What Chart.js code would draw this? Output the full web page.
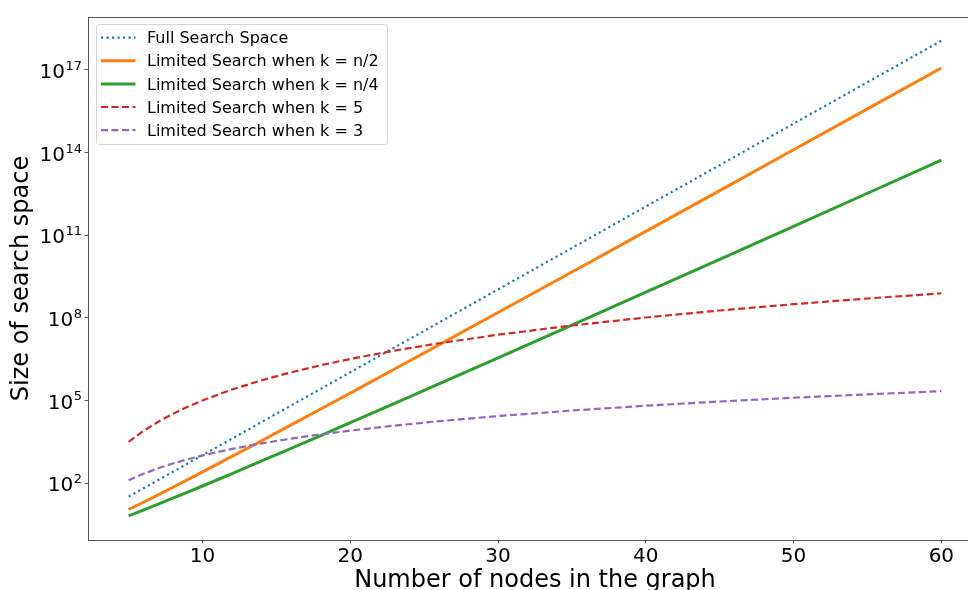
<!DOCTYPE html>
<html>
<head>
<meta charset="utf-8">
<script src="https://cdn.jsdelivr.net/npm/chart.js@4/dist/chart.umd.min.js"></script>
<style>
  html, body { margin: 0; padding: 0; background: #fff; overflow: hidden; }
  #wrap { position: relative; width: 982px; height: 590px; }
</style>
</head>
<body>
<div id="wrap"><canvas id="chart"></canvas></div>
<script>
// Number of nodes n in the graph
const nodes = [5, 6, 7, 8, 9, 10, 12, 14, 16, 18, 20, 23, 26, 30, 35, 40, 45, 50, 55, 60];

// Size of the search space for each strategy
const fullSpace = [32, 64, 128, 256, 512, 1024, 4096, 16384, 65536, 262144, 1048576,
  8388608, 67108864, 1073741824, 3.436e10, 1.0995e12, 3.518e13, 1.126e15, 3.603e16, 1.153e18];
const halfK = [10.9, 20, 37.3, 70, 132, 252, 924, 3432, 12870, 48620, 184756,
  1.38e6, 1.04e7, 1.551e8, 4.60e9, 1.378e11, 4.16e12, 1.264e14, 3.86e15, 1.183e17];
const quarterK = [6.4, 10.4, 17, 28, 46.6, 77.8, 220, 630, 1820, 5300, 15504,
  7.8e4, 3.95e5, 3.5e6, 5.45e7, 8.48e8, 1.33e10, 2.11e11, 3.34e12, 5.32e13];
const kFive = [3125, 7776, 16807, 32768, 59049, 1e5, 248832, 537824, 1048576, 1889568, 3.2e6,
  6436343, 11881376, 2.43e7, 52521875, 1.024e8, 184528125, 3.125e8, 503284375, 7.776e8];
const kThree = [125, 216, 343, 512, 729, 1000, 1728, 2744, 4096, 5832, 8000,
  12167, 17576, 27000, 42875, 64000, 91125, 125000, 166375, 216000];

const seriesLabels = [
  'Full Search Space',
  'Limited Search when k = n/2',
  'Limited Search when k = n/4',
  'Limited Search when k = 5',
  'Limited Search when k = 3'
];

// Axis ticks
const xTicks = [10, 20, 30, 40, 50, 60];
const yTickExponents = [2, 5, 8, 11, 14, 17];

const xTitle = 'Number of nodes in the graph';
const yTitle = 'Size of search space';

const FONT = "'DejaVu Sans', sans-serif";

const styles = [
  { color: '#1f77b4', width: 2.2, dash: [2.2, 3.3] },
  { color: '#ff7f0e', width: 3, dash: [] },
  { color: '#2ca02c', width: 3, dash: [] },
  { color: '#d62728', width: 2.2, dash: [7, 3.5] },
  { color: '#9467bd', width: 2.2, dash: [7, 3.5] }
];

const values = [fullSpace, halfK, quarterK, kFive, kThree];

const datasets = values.map((arr, i) => ({
  label: seriesLabels[i],
  data: nodes.map((n, j) => ({ x: n, y: arr[j] })),
  borderColor: styles[i].color,
  backgroundColor: styles[i].color,
  borderWidth: styles[i].width,
  borderDash: styles[i].dash,
  borderCapStyle: 'butt',
  pointRadius: 0,
  tension: 0,
  fill: false,
  order: values.length - i
}));

const decor = {
  id: 'decor',
  afterDatasetsDraw(chart) {
    const { ctx, chartArea: a } = chart;
    ctx.save();
    ctx.strokeStyle = '#555';
    ctx.lineWidth = 1;
    ctx.setLineDash([]);
    ctx.strokeRect(Math.round(a.left) + 0.5, Math.round(a.top) + 0.5,
      Math.round(a.right - a.left), Math.round(a.bottom - a.top));
    ctx.restore();
  },
  afterDraw(chart) {
    const { ctx, chartArea: a } = chart;
    const yScale = chart.scales.y;
    ctx.save();
    ctx.fillStyle = '#000';

    // y tick labels as 10 with a raised exponent
    yTickExponents.forEach(e => {
      const py = yScale.getPixelForValue(Math.pow(10, e));
      const right = a.left - 6;
      ctx.font = '13px ' + FONT;
      const expStr = String(e);
      const ew = ctx.measureText(expStr).width;
      ctx.textAlign = 'right';
      ctx.textBaseline = 'alphabetic';
      ctx.fillText(expStr, right, py);
      ctx.font = '20px ' + FONT;
      ctx.fillText('10', right - ew - 0.5, py + 8.3);
    });

    // axis titles
    ctx.font = '24px ' + FONT;
    ctx.textAlign = 'center';
    ctx.textBaseline = 'alphabetic';
    ctx.fillText(xTitle, (a.left + a.right) / 2, 586.5);
    ctx.save();
    ctx.translate(28, (a.top + a.bottom) / 2);
    ctx.rotate(-Math.PI / 2);
    ctx.fillText(yTitle, 0, 0);
    ctx.restore();

    // legend
    const bx = 96.5, by = 24.5, bw = 291, bh = 120, r = 3;
    ctx.beginPath();
    ctx.moveTo(bx + r, by);
    ctx.lineTo(bx + bw - r, by);
    ctx.arcTo(bx + bw, by, bx + bw, by + r, r);
    ctx.lineTo(bx + bw, by + bh - r);
    ctx.arcTo(bx + bw, by + bh, bx + bw - r, by + bh, r);
    ctx.lineTo(bx + r, by + bh);
    ctx.arcTo(bx, by + bh, bx, by + bh - r, r);
    ctx.lineTo(bx, by + r);
    ctx.arcTo(bx, by, bx + r, by, r);
    ctx.closePath();
    ctx.fillStyle = 'rgba(255,255,255,0.8)';
    ctx.fill();
    ctx.strokeStyle = '#d4d4d4';
    ctx.lineWidth = 1;
    ctx.stroke();

    chart.data.datasets.forEach((ds, i) => {
      const base = 43.3 + i * 23.1;
      const ly = base - 5.6;
      ctx.beginPath();
      ctx.setLineDash(ds.borderDash || []);
      ctx.lineCap = 'butt';
      ctx.strokeStyle = ds.borderColor;
      ctx.lineWidth = ds.borderWidth;
      ctx.moveTo(101, ly);
      ctx.lineTo(135.5, ly);
      ctx.stroke();
      ctx.setLineDash([]);
      ctx.fillStyle = '#000';
      ctx.font = '16px ' + FONT;
      ctx.textAlign = 'left';
      ctx.textBaseline = 'alphabetic';
      ctx.fillText(ds.label, 147, base);
    });
    ctx.restore();
  }
};

new Chart(document.getElementById('chart'), {
  type: 'line',
  data: { datasets },
  options: {
    responsive: true,
    maintainAspectRatio: false,
    animation: false,
    devicePixelRatio: 1,
    layout: { padding: { top: 17, right: 0, left: 0, bottom: 0 } },
    plugins: { legend: { display: false }, tooltip: { enabled: false } },
    scales: {
      x: {
        type: 'linear',
        min: 2.25,
        max: 62.75,
        afterBuildTicks(scale) { scale.ticks = xTicks.map(v => ({ value: v })); },
        afterFit(scale) { scale.height = 50; },
        border: { display: false },
        grid: { display: true, drawOnChartArea: false, drawTicks: true, tickLength: 3.5, color: '#555' },
        ticks: { font: { family: FONT, size: 20 }, color: '#000', padding: 1, maxRotation: 0, autoSkip: false }
      },
      y: {
        type: 'logarithmic',
        min: 0.851,
        max: 8.41e18,
        afterBuildTicks(scale) { scale.ticks = yTickExponents.map(e => ({ value: Math.pow(10, e) })); },
        afterFit(scale) { scale.width = 88; },
        border: { display: false },
        grid: { display: true, drawOnChartArea: false, drawTicks: true, tickLength: 3.5, color: '#555' },
        ticks: { display: false }
      }
    }
  },
  plugins: [decor]
});
</script>
</body>
</html>
